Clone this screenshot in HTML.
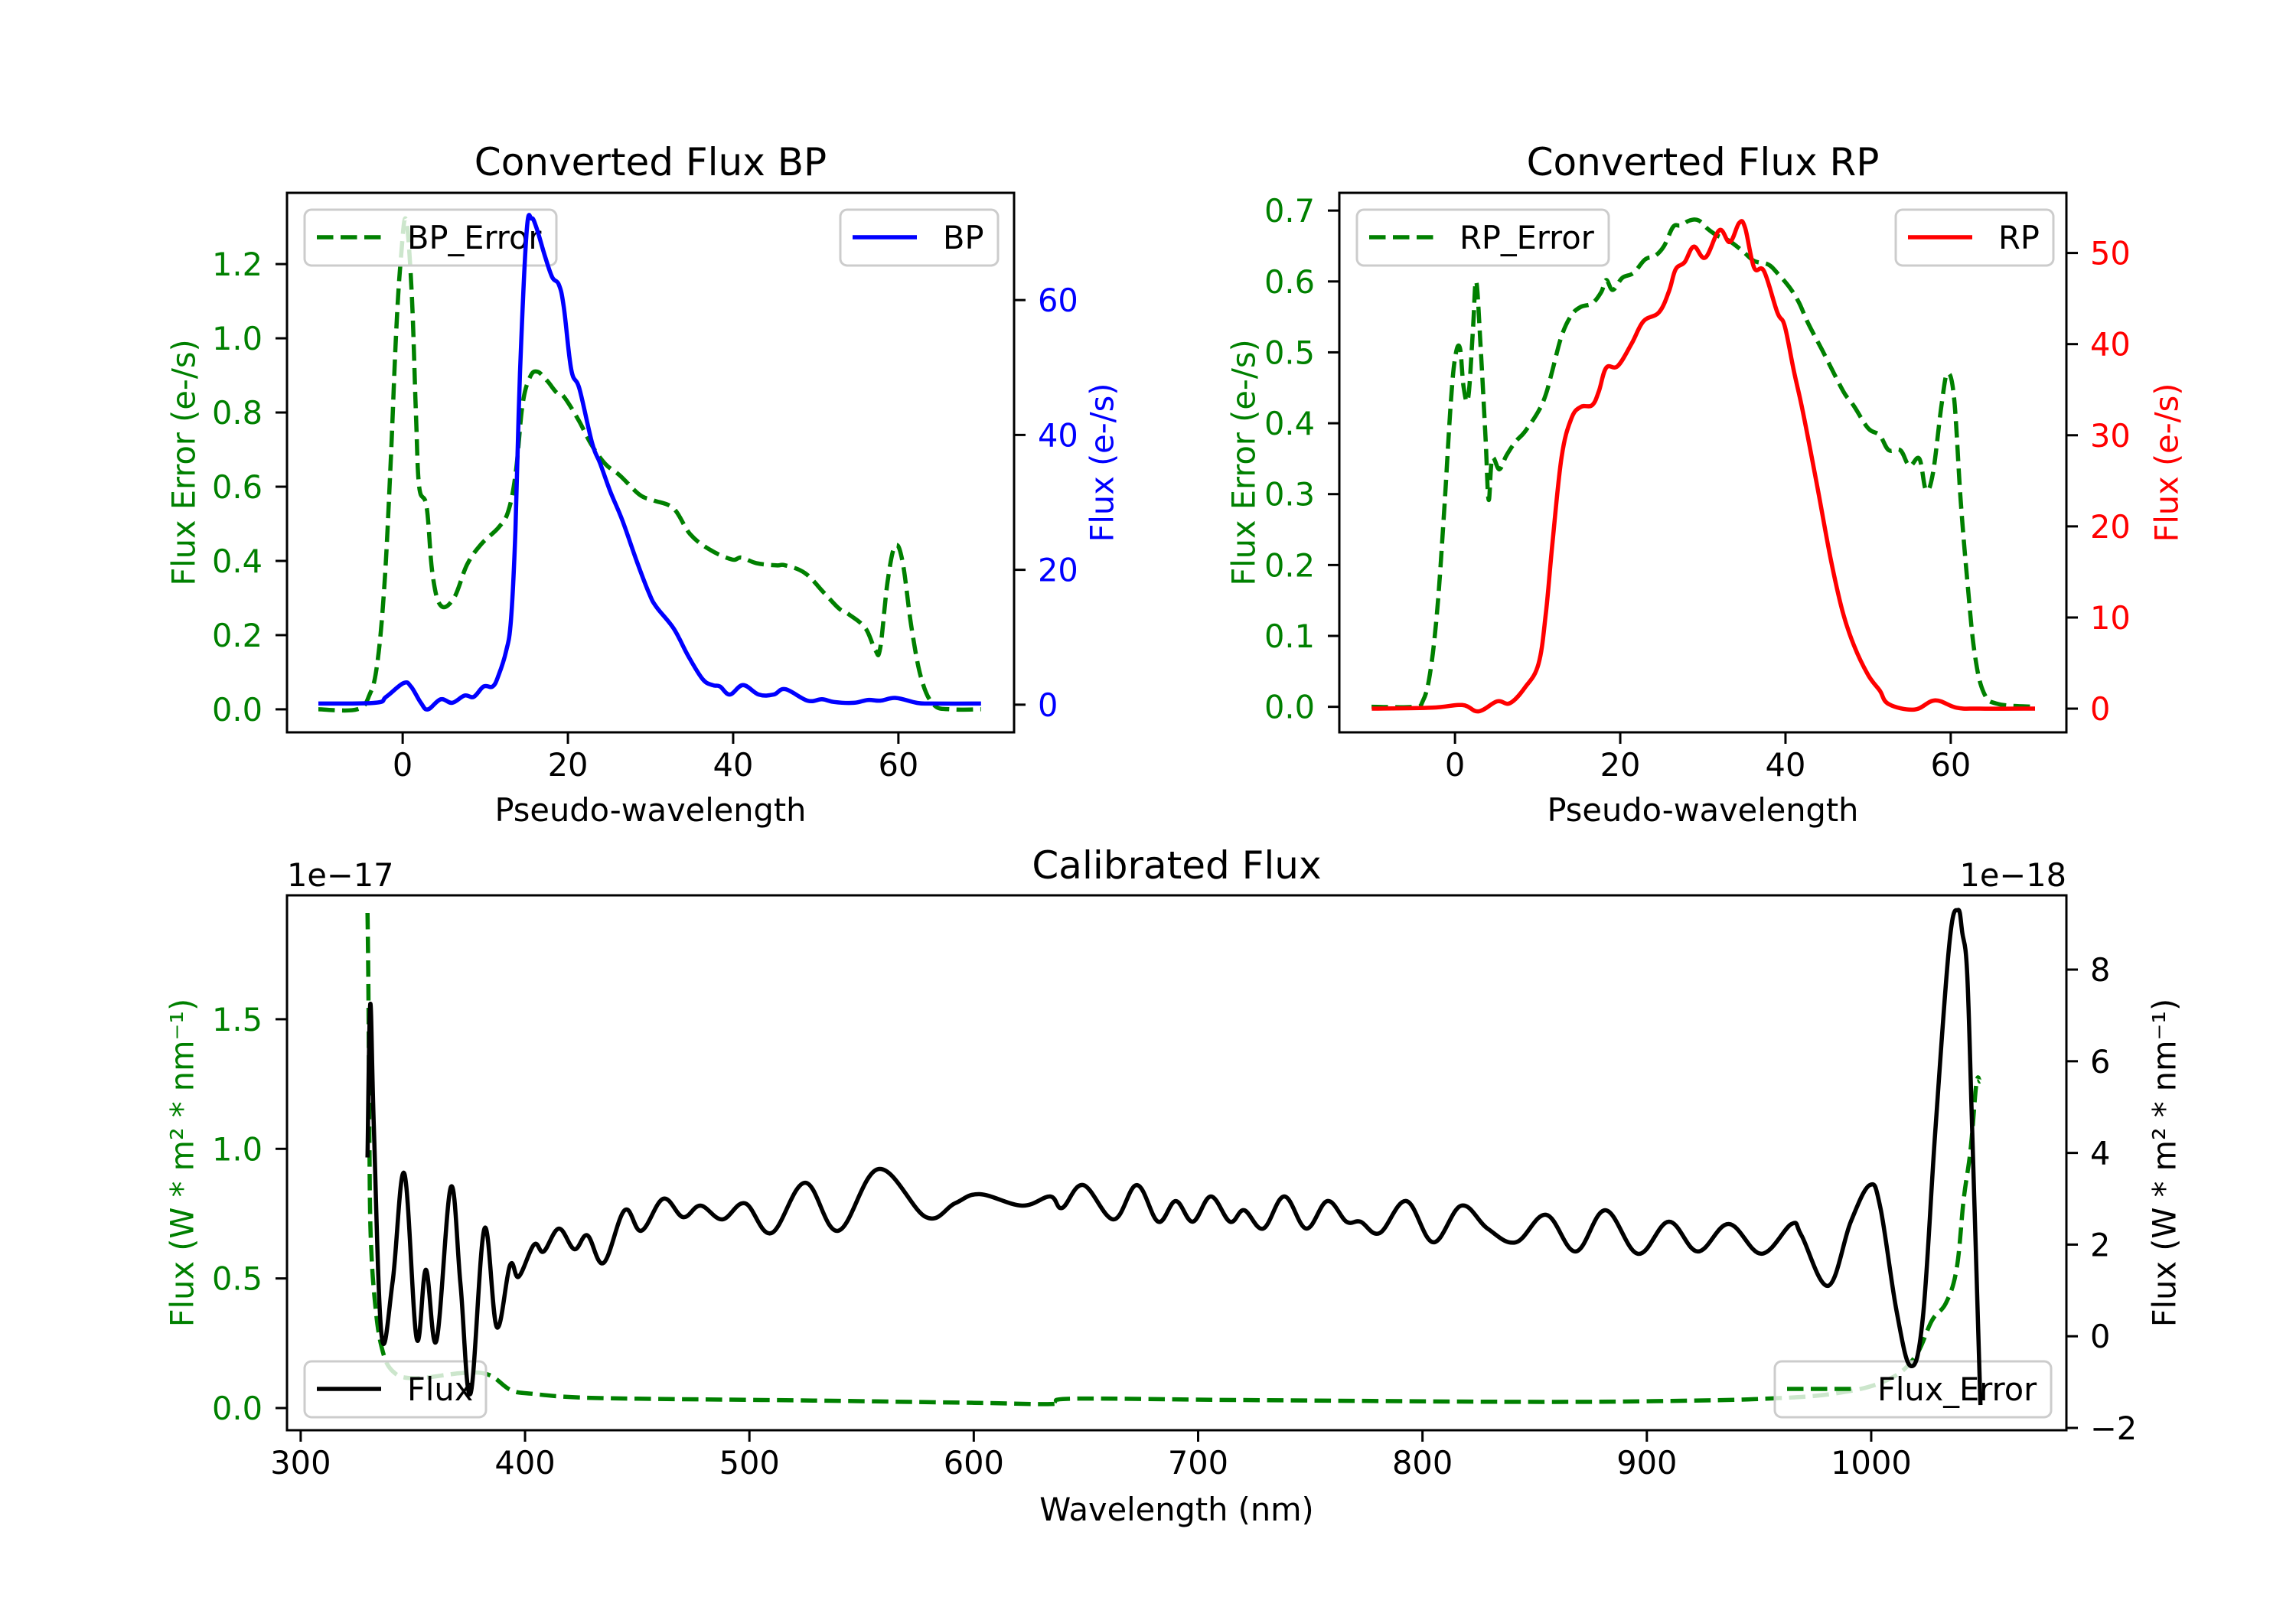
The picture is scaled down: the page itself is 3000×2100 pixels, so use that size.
<!DOCTYPE html>
<html><head><meta charset="utf-8">
<style>
html,body{margin:0;padding:0;background:#fff;}
svg{display:block;font-family:"DejaVu Sans","Liberation Sans",sans-serif;}
</style></head>
<body>
<svg id="fig" xmlns="http://www.w3.org/2000/svg" width="3000" height="2100" viewBox="0 0 3000 2100">
<rect x="0" y="0" width="3000" height="2100" fill="#fff"/>
</svg>
<script>
// ---------- data ----------
const bpErrX=[-10.2,-5.5,-4.0,-3.1,-2.25,-1.5,-0.8,-0.2,0.4,1.1,1.6,2.0,2.9,3.6,4.6,6.2,7.8,9.5,11.6,12.8,13.7,14.5,15.4,16.3,17.5,18.65,19.5,21.3,22.8,24.5,26.3,28.7,30.4,32.8,34.8,37.2,39.85,41.0,42.8,45.2,46.3,48.7,51.0,52.8,54.0,56.0,57.2,57.8,58.7,59.6,60.5,61.6,62.8,64.3,66.4,70];
const bpErrY=[0,0,0.04,0.12,0.32,0.64,1.01,1.22,1.32,1.12,0.8,0.6,0.546,0.367,0.28,0.30,0.39,0.445,0.49,0.535,0.64,0.82,0.895,0.91,0.885,0.853,0.843,0.779,0.715,0.662,0.63,0.578,0.563,0.541,0.472,0.43,0.404,0.409,0.394,0.388,0.388,0.367,0.314,0.272,0.256,0.219,0.16,0.165,0.345,0.44,0.398,0.219,0.081,0.012,0,0];
const bpX=[-10.2,-3.35,-2.0,0.1,1.0,2.2,3.05,4.6,6.0,7.5,8.6,9.8,10.9,11.6,12.5,13.1,13.65,14.2,15.0,15.6,16.2,17.2,18.1,18.9,19.5,20.4,21.4,22.95,23.9,25.1,26.6,28.35,29.8,30.7,32.8,34.55,36.3,37.5,38.4,39.6,41.2,43.1,44.9,46.3,49.0,50.75,52.2,54.6,56.3,57.8,59.7,62.2,64.0,70];
const bpY=[0.17,0.28,1.16,3.2,2.7,0.28,-0.7,0.8,0.28,1.36,1.16,2.7,2.7,4.35,7.85,12.5,25.9,49.1,70.1,72.1,70.7,66.6,63.4,62.3,59.0,49.7,46.8,38.7,35.8,31.7,27.3,21.2,16.6,14.5,11.3,7.25,3.8,2.9,2.7,1.5,2.9,1.5,1.5,2.3,0.6,0.8,0.4,0.28,0.7,0.6,1.0,0.28,0.17,0.17];
const rpErrX=[-10.1,-5.0,-3.9,-3.05,-2.2,-1.37,-0.53,0.03,0.6,1.04,1.6,2.17,2.56,3.1,3.7,4.07,4.5,5.37,6.2,7.33,8.45,10.1,11.0,11.8,12.9,14.07,15.2,16.6,17.7,18.3,19.1,20.24,21.6,23.0,24.2,25.3,26.4,27.3,28.4,29.5,30.6,31.7,33.1,34.8,36.2,37.9,39.0,40.4,41.6,42.7,44.4,46.1,47.2,48.3,50.0,51.4,52.5,53.9,55.0,56.2,57.0,57.85,58.9,59.6,60.4,61.2,62.06,62.9,64.0,65.7,70.2];
const rpErrY=[0,0,0.008,0.045,0.13,0.265,0.425,0.494,0.506,0.451,0.436,0.532,0.6,0.508,0.378,0.292,0.35,0.335,0.354,0.374,0.388,0.417,0.441,0.475,0.523,0.552,0.564,0.569,0.585,0.602,0.588,0.605,0.612,0.631,0.636,0.65,0.677,0.679,0.686,0.686,0.674,0.665,0.658,0.643,0.629,0.624,0.612,0.593,0.571,0.542,0.504,0.465,0.441,0.424,0.393,0.383,0.362,0.362,0.34,0.35,0.306,0.33,0.427,0.47,0.436,0.292,0.171,0.075,0.02,0.004,0];
const rpX=[-10.07,-2.8,0.87,2.84,5.1,6.65,8.45,10.1,11.0,11.8,12.9,14.07,15.2,16.6,17.4,18.3,19.7,21.4,22.8,24.7,25.9,26.7,27.8,28.9,30.3,32.0,33.26,34.4,35.1,36.2,37.4,39.0,39.9,41.0,42.1,43.8,45.5,46.9,48.3,50.0,51.4,52.5,55.6,58.1,60.7,63.5,70.2];
const rpY=[0,0.1,0.4,-0.3,0.8,0.6,2.3,4.9,10.5,18.2,27.6,31.8,33.1,33.3,34.8,37.4,37.6,40.1,42.5,43.5,45.8,48.2,49.0,50.7,49.5,52.5,51.2,53.3,52.8,48.4,48.0,43.5,42.0,37.1,32.6,24.6,16.3,10.7,6.9,3.7,2.0,0.5,-0.1,0.9,0.1,0,0];
const calX=[329.8,331,332.6,336.1,341,346.2,351.7,355.8,360.5,366.9,371.2,375.7,381.9,387.4,393.3,397.2,404,408.3,415.1,422,427.8,435,444.4,451.8,461.6,470.4,478.2,487.9,498.1,509.8,524.8,539.5,557.6,578.7,591.6,602.6,621.5,634.0,639.4,648.8,662.3,672.7,682.2,690,697.6,705.7,714.2,720.5,729,738.4,748.2,757.6,766.1,772.4,780.9,792.8,804.8,817.3,829,841.6,855.1,868.3,881.5,896,909.8,922.7,936.5,951,964.5,968.9,980.8,990.9,999.4,1004.1,1011.3,1017.6,1023,1028.6,1034.9,1038.7,1040.6,1042.8,1045,1048.7];
const calY=[3.9,7.25,4.55,0,1.2,3.55,-0.05,1.45,-0.1,3.25,1.15,-1.25,2.35,0.2,1.55,1.3,2.0,1.85,2.35,1.9,2.2,1.6,2.75,2.3,3.0,2.6,2.85,2.55,2.9,2.25,3.35,2.3,3.65,2.6,2.9,3.1,2.85,3.05,2.8,3.3,2.55,3.3,2.5,2.95,2.5,3.05,2.5,2.75,2.35,3.05,2.35,2.95,2.5,2.5,2.25,2.95,2.05,2.85,2.35,2.05,2.65,1.85,2.75,1.8,2.5,1.85,2.45,1.8,2.45,2.2,1.1,2.5,3.3,2.8,0.55,-0.65,0.4,4.5,8.6,9.3,8.8,7.9,4.5,-1.5];
const calErrX=[329.8,330.2,330.6,331.2,333.1,336.1,341,350.7,372.2,383.9,393.7,403.4,421,450.3,528.3,600.2,635.6,643.5,717.4,843.1,906,953.2,984.6,1006.6,1019.2,1027.1,1033.3,1038.1,1041.2,1044.3,1046.9,1048.4];
const calErrY=[1.91,1.6,1.07,0.67,0.41,0.234,0.142,0.115,0.135,0.128,0.069,0.055,0.042,0.036,0.029,0.02,0.016,0.036,0.031,0.024,0.027,0.036,0.057,0.106,0.193,0.338,0.405,0.538,0.803,0.998,1.253,1.26];
const pseudoTicks=[0,20,40,60];
const bpErrTicks=[0,0.2,0.4,0.6,0.8,1.0,1.2];
const bpTicks=[0,20,40,60];
const rpErrTicks=[0,0.1,0.2,0.3,0.4,0.5,0.6,0.7];
const rpTicks=[0,10,20,30,40,50];
const wlTicks=[300,400,500,600,700,800,900,1000];
const calErrTicks=[0,0.5,1.0,1.5];
const calTicks=[-2,0,2,4,6,8];

// ---------- helpers ----------
const NS="http://www.w3.org/2000/svg";
const svg=document.getElementById('fig');
function el(tag,attrs,parent){const e=document.createElementNS(NS,tag);for(const k in attrs)e.setAttribute(k,attrs[k]);(parent||svg).appendChild(e);return e;}
function scale(d0,d1,p0,p1){return v=>p0+(v-d0)*(p1-p0)/(d1-d0);}
function smoothPath(xs,ys,sx,sy){
  const P=xs.map((x,i)=>[sx(x),sy(ys[i])]);
  let d='M'+P[0][0].toFixed(1)+','+P[0][1].toFixed(1);
  for(let i=0;i<P.length-1;i++){
    const p0=P[Math.max(0,i-1)],p1=P[i],p2=P[i+1],p3=P[Math.min(P.length-1,i+2)];
    const t=0.18;
    const c1=[p1[0]+(p2[0]-p0[0])*t,p1[1]+(p2[1]-p0[1])*t];
    const c2=[p2[0]-(p3[0]-p1[0])*t,p2[1]-(p3[1]-p1[1])*t];
    d+='C'+c1[0].toFixed(1)+','+c1[1].toFixed(1)+' '+c2[0].toFixed(1)+','+c2[1].toFixed(1)+' '+p2[0].toFixed(1)+','+p2[1].toFixed(1);
  }
  return d;
}
const FS=41.5;
const TFS=50;
function fmt(v,dec){return (v<0?'\u2212':'')+Math.abs(v).toFixed(dec);}
let clipN=0;
function makeClip(L,T,R,B){
  const id='clip'+(clipN++);
  const cp=el('clipPath',{id:id});
  el('rect',{x:L,y:T,width:R-L,height:B-T},cp);
  return id;
}
function xTicks(g,ticks,sx,B,dec){
  ticks.forEach(t=>{
    const x=sx(t);
    const ln=el('line',{x1:x,x2:x,y1:B,y2:B+15,stroke:'#000','stroke-width':3},g);
    
    
    const tx=el('text',{x:x,y:B+57,'font-size':FS,'text-anchor':'middle',fill:'#000'},g);
    tx.textContent=fmt(t,dec);
    
    
  });
}
function yTicks(g,ticks,sy,X,side,color,dec){
  ticks.forEach(t=>{
    const y=sy(t);
    const ln=el('line',{x1:X,x2:X+(side<0?-15:15),y1:y,y2:y,stroke:'#000','stroke-width':3},g);
    
    
    const tx=el('text',{x:X+(side<0?-32:31),y:y+15,'font-size':FS,'text-anchor':side<0?'end':'start',fill:color},g);
    tx.textContent=fmt(t,dec);
    
    
  });
}
function vLabel(g,txt,x,y,color,name){
  const t=el('text',{x:x,y:y,'font-size':FS,'text-anchor':'middle','dominant-baseline':'central',fill:color,transform:'rotate(-90 '+x+' '+y+')'},g);
  t.textContent=txt;
  
  
}
function line(g,xs,ys,sx,sy,color,dashed,clip,name){
  const p=el('path',{d:smoothPath(xs,ys,sx,sy),fill:'none',stroke:color,'stroke-width':5.5,'stroke-linejoin':'round','clip-path':'url(#'+clip+')'},g);
  if(dashed)p.setAttribute('stroke-dasharray','21.5 9.5');
  
  
}
function legend(g,x,y,w,label,color,dashed,name){
  const lg=el('g',{},g);
  
  
  el('rect',{x:x,y:y,width:w,height:73,rx:9,fill:'#fff','fill-opacity':0.8,stroke:'#cccccc','stroke-width':3},lg);
  const h=el('line',{x1:x+16,x2:x+100,y1:y+36,y2:y+36,stroke:color,'stroke-width':5.5},lg);
  if(dashed)h.setAttribute('stroke-dasharray','21.5 9.5');
  const t=el('text',{x:x+134,y:y+51,'font-size':FS,fill:'#000'},lg);
  t.textContent=label;
}
function frame(g,L,T,R,B){
  el('rect',{x:L,y:T,width:R-L,height:B-T,fill:'none',stroke:'#000','stroke-width':3},g);
}

// ---------- panel BP ----------
(function(){
  const L=375,R=1325,T=252,B=957;
  const g=el('g',{});
  const sx=scale(-14,74,L,R), sy1=scale(-0.062,1.392,B,T), sy2=scale(-4.1,75.9,B,T);
  const clip=makeClip(L,T,R,B);
  line(g,bpErrX,bpErrY,sx,sy1,'#008000',true,clip,'bp-error-line');
  legend(g,398,274,329,'BP_Error','#008000',true,'bp-error-legend');
  line(g,bpX,bpY,sx,sy2,'#0000ff',false,clip,'bp-flux-line');
  legend(g,1098,274,206,'BP','#0000ff',false,'bp-legend');
  frame(g,L,T,R,B);
  xTicks(g,pseudoTicks,sx,B,0);
  yTicks(g,bpErrTicks,sy1,L,-1,'#008000',1);
  yTicks(g,bpTicks,sy2,R,1,'#0000ff',0);
  const t=el('text',{x:(L+R)/2,y:T-23,'font-size':TFS,'text-anchor':'middle'},g);t.textContent='Converted Flux BP';
  
  const xl=el('text',{x:(L+R)/2,y:B+116,'font-size':FS,'text-anchor':'middle'},g);xl.textContent='Pseudo-wavelength';
  
  vLabel(g,'Flux Error (e-/s)',240,(T+B)/2,'#008000','bp-left-y-axis-title');
  vLabel(g,'Flux (e-/s)',1440,(T+B)/2,'#0000ff','bp-right-y-axis-title');
})();

// ---------- panel RP ----------
(function(){
  const L=1750,R=2700,T=252,B=957;
  const g=el('g',{});
  const sx=scale(-14,74,L,R), sy1=scale(-0.036,0.725,B,T), sy2=scale(-2.6,56.6,B,T);
  const clip=makeClip(L,T,R,B);
  line(g,rpErrX,rpErrY,sx,sy1,'#008000',true,clip,'rp-error-line');
  legend(g,1773,274,329,'RP_Error','#008000',true,'rp-error-legend');
  line(g,rpX,rpY,sx,sy2,'#ff0000',false,clip,'rp-flux-line');
  legend(g,2477,274,206,'RP','#ff0000',false,'rp-legend');
  frame(g,L,T,R,B);
  xTicks(g,pseudoTicks,sx,B,0);
  yTicks(g,rpErrTicks,sy1,L,-1,'#008000',1);
  yTicks(g,rpTicks,sy2,R,1,'#ff0000',0);
  const t=el('text',{x:(L+R)/2,y:T-23,'font-size':TFS,'text-anchor':'middle'},g);t.textContent='Converted Flux RP';
  
  const xl=el('text',{x:(L+R)/2,y:B+116,'font-size':FS,'text-anchor':'middle'},g);xl.textContent='Pseudo-wavelength';
  
  vLabel(g,'Flux Error (e-/s)',1625,(T+B)/2,'#008000','rp-left-y-axis-title');
  vLabel(g,'Flux (e-/s)',2831,(T+B)/2,'#ff0000','rp-right-y-axis-title');
})();

// ---------- calibrated panel ----------
(function(){
  const L=375,R=2700,T=1170,B=1869;
  const g=el('g',{});
  const sx=scale(293.9,1087,L,R), sy1=scale(-0.0856,1.978,B,T), sy2=scale(-2.05,9.62,B,T);
  const clip=makeClip(L,T,R,B);
  line(g,calErrX,calErrY,sx,sy1,'#008000',true,clip,'flux-error-line');
  legend(g,398,1779,237,'Flux','#000',false,'flux-legend');
  legend(g,2319,1779,361,'Flux_Error','#008000',true,'flux-error-legend');
  line(g,calX,calY,sx,sy2,'#000',false,clip,'flux-line');
  frame(g,L,T,R,B);
  xTicks(g,wlTicks,sx,B,0);
  yTicks(g,calErrTicks,sy1,L,-1,'#008000',1);
  yTicks(g,calTicks,sy2,R,1,'#000',0);
  const t=el('text',{x:(L+R)/2,y:T-22,'font-size':TFS,'text-anchor':'middle'},g);t.textContent='Calibrated Flux';
  
  const o1=el('text',{x:L,y:T-12,'font-size':FS,'text-anchor':'start'},g);o1.textContent='1e\u221217';
  
  const o2=el('text',{x:R,y:T-12,'font-size':FS,'text-anchor':'end'},g);o2.textContent='1e\u221218';
  
  const xl=el('text',{x:(L+R)/2,y:B+118,'font-size':FS,'text-anchor':'middle'},g);xl.textContent='Wavelength (nm)';
  
  vLabel(g,'Flux (W * m\u00b2 * nm\u207b\u00b9)',238,(T+B)/2,'#008000','calibrated-left-y-axis-title');
  vLabel(g,'Flux (W * m\u00b2 * nm\u207b\u00b9)',2828,(T+B)/2,'#000','calibrated-right-y-axis-title');
})();
</script>
</body></html>
